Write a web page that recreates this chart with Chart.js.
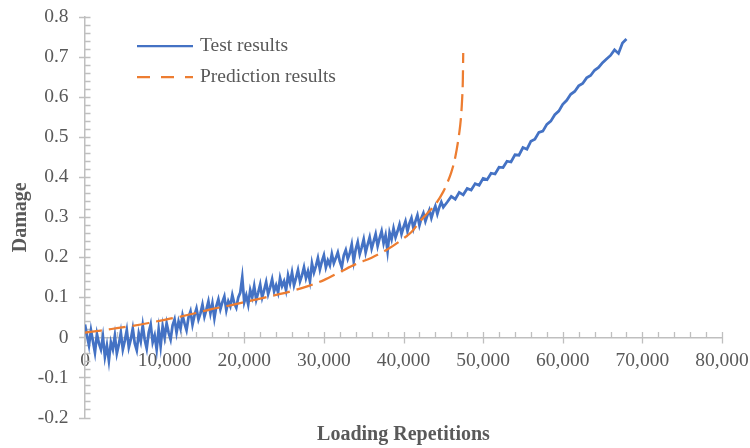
<!DOCTYPE html>
<html>
<head>
<meta charset="utf-8">
<script src="https://cdn.jsdelivr.net/npm/chart.js@4.4.1/dist/chart.umd.min.js"></script>
<style>
  html, body { margin: 0; padding: 0; background: #ffffff; }
  #wrap { width: 750px; height: 448px; position: relative; }
</style>
</head>
<body>
<div id="wrap"><canvas id="chart"></canvas></div>
<script>
// ---------- DATA ----------
const seriesNames = ['Test results', 'Prediction results'];
const xTickLabels = ['0', '10,000', '20,000', '30,000', '40,000', '50,000', '60,000', '70,000', '80,000'];
const yTickLabels = ['-0.2', '-0.1', '0', '0.1', '0.2', '0.3', '0.4', '0.5', '0.6', '0.7', '0.8'];

// Test results, part 1: repetitions 0 .. 45,000, one reading every 250
const testEarlyStart = 0, testEarlyStep = 250;
const testDamageEarly = [
  0.032, 0.005, -0.020, 0.018,    // 0
  -0.010, -0.038, 0.008, -0.015,  // 1000
  -0.030, 0.002, -0.048, -0.020,  // 2000
  -0.058, -0.012, -0.030, 0.004,  // 3000
  -0.040, -0.018, 0.012, -0.030,  // 4000
  -0.008, 0.018, -0.025, -0.005,  // 5000
  0.022, -0.015, -0.032, 0.010,   // 6000
  -0.010, 0.030, -0.006, -0.028,  // 7000
  0.012, 0.032, -0.012, 0.005,    // 8000
  -0.030, 0.020, -0.022, 0.028,   // 9000
  0.000, 0.035, 0.012, -0.005,    // 10000
  0.030, 0.045, 0.012, 0.040,     // 11000
  0.022, 0.055, 0.035, 0.018,     // 12000
  0.050, 0.065, 0.032, 0.055,     // 13000
  0.072, 0.045, 0.060, 0.082,     // 14000
  0.052, 0.070, 0.090, 0.060,     // 15000
  0.085, 0.048, 0.078, 0.095,     // 16000
  0.070, 0.088, 0.102, 0.068,     // 17000
  0.090, 0.078, 0.106, 0.085,     // 18000
  0.074, 0.100, 0.112, 0.150,     // 19000
  0.088, 0.105, 0.082, 0.118,     // 20000
  0.100, 0.128, 0.094, 0.112,     // 21000
  0.132, 0.100, 0.118, 0.138,     // 22000
  0.108, 0.125, 0.145, 0.115,     // 23000
  0.130, 0.112, 0.148, 0.128,     // 24000
  0.140, 0.118, 0.155, 0.135,     // 25000
  0.162, 0.130, 0.148, 0.168,     // 26000
  0.140, 0.155, 0.175, 0.148,     // 27000
  0.165, 0.140, 0.185, 0.162,     // 28000
  0.178, 0.198, 0.170, 0.190,     // 29000
  0.205, 0.175, 0.192, 0.180,     // 30000
  0.208, 0.185, 0.198, 0.212,     // 31000
  0.190, 0.175, 0.205, 0.218,     // 32000
  0.196, 0.210, 0.232, 0.190,     // 33000
  0.220, 0.238, 0.208, 0.225,     // 34000
  0.245, 0.212, 0.232, 0.250,     // 35000
  0.222, 0.240, 0.258, 0.228,     // 36000
  0.248, 0.265, 0.235, 0.255,     // 37000
  0.215, 0.262, 0.245, 0.272,     // 38000
  0.250, 0.265, 0.282, 0.258,     // 39000
  0.275, 0.290, 0.265, 0.285,     // 40000
  0.298, 0.272, 0.290, 0.305,     // 41000
  0.280, 0.298, 0.310, 0.290,     // 42000
  0.305, 0.318, 0.298, 0.315,     // 43000
  0.328, 0.308, 0.325, 0.338,     // 44000
  0.325                           // 45000
];
// Test results, part 2: repetitions 45,500 .. 68,000, one reading every 500
const testLateStart = 45500, testLateStep = 500;
const testDamageLate = [
  0.338, 0.352, 0.345, 0.362, 0.356, 0.372, 0.368, 0.384, 0.380, 0.397,
  0.394, 0.410, 0.408, 0.425, 0.424, 0.440, 0.438, 0.456, 0.455, 0.474,
  0.470, 0.490, 0.495, 0.512, 0.515, 0.532, 0.540, 0.556, 0.565, 0.582,
  0.592, 0.607, 0.614, 0.628, 0.634, 0.648, 0.654, 0.667, 0.674, 0.686,
  0.695, 0.704, 0.718, 0.709, 0.735, 0.745
];

// Prediction results
const predRepetitions = [0, 2000, 4000, 6000, 8000, 10000, 12000, 14000, 16000, 18000,
  20000, 22000, 24000, 26000, 28000, 30000, 32000, 34000, 36000, 38000,
  40000, 41000, 42000, 43000, 44000, 45000, 45500, 46000, 46500, 47000,
  47200, 47350, 47450, 47500];
const predDamage = [0.012, 0.017, 0.023, 0.029, 0.036, 0.044, 0.052, 0.061, 0.071, 0.079,
  0.088, 0.097, 0.106, 0.116, 0.128, 0.143, 0.163, 0.183, 0.199, 0.220,
  0.247, 0.263, 0.288, 0.310, 0.332, 0.364, 0.386, 0.412, 0.450, 0.510,
  0.545, 0.590, 0.640, 0.710];

// ---------- BUILD ----------
const testPoints = [];
testDamageEarly.forEach((d, i) => testPoints.push({ x: testEarlyStart + i * testEarlyStep, y: d }));
testDamageLate.forEach((d, i) => testPoints.push({ x: testLateStart + i * testLateStep, y: d }));
const predPoints = predRepetitions.map((r, i) => ({ x: r, y: predDamage[i] }));

const FONT = "'Liberation Serif', 'Times New Roman', serif";
const TEXT = '#595959';
const AXIS = '#bfbfbf';
const xMinorStep = 2000, yMinorStep = 0.02;

const axisTicksPlugin = {
  id: 'axisTicks',
  beforeDatasetsDraw(chart) {
    const { ctx, scales: { x, y } } = chart;
    const ay = y.getPixelForValue(0);
    const ax = chart.chartArea.left;
    ctx.save();
    ctx.strokeStyle = AXIS;
    ctx.lineWidth = 1.3;
    ctx.beginPath();
    const nx = Math.round((x.max - x.min) / xMinorStep);
    for (let k = 0; k <= nx; k++) {
      const v = x.min + k * xMinorStep;
      const px = Math.round(x.getPixelForValue(v)) + 0.5;
      const major = (k % 5) === 0;
      ctx.moveTo(px, ay - 5.5);
      ctx.lineTo(px, major ? ay + 6 : ay);
    }
    const ny = Math.round((y.max - y.min) / yMinorStep);
    for (let k = 0; k <= ny; k++) {
      const v = y.min + k * yMinorStep;
      const py = Math.round(y.getPixelForValue(v)) + 0.5;
      const major = (k % 5) === 0;
      ctx.moveTo(major ? ax - 6 : ax, py);
      ctx.lineTo(ax + 5.5, py);
    }
    ctx.stroke();
    ctx.restore();
  }
};

const legendPlugin = {
  id: 'innerLegend',
  afterDraw(chart) {
    const { ctx, chartArea } = chart;
    ctx.save();
    chart.data.datasets.forEach((ds, i) => {
      const yy = chartArea.top + 29 + i * 31;
      const x1 = chartArea.left + 52, x2 = chartArea.left + 108;
      ctx.strokeStyle = ds.borderColor;
      ctx.lineWidth = 2.25;
      ctx.setLineDash(ds.borderDash && ds.borderDash.length ? [13, 11] : []);
      ctx.beginPath();
      ctx.moveTo(x1, yy);
      ctx.lineTo(x2, yy);
      ctx.stroke();
      ctx.setLineDash([]);
      ctx.fillStyle = TEXT;
      ctx.font = "19.5px " + FONT;
      ctx.textAlign = 'left';
      ctx.textBaseline = 'middle';
      ctx.fillText(ds.label, x2 + 7, yy);
    });
    ctx.restore();
  }
};

new Chart(document.getElementById('chart'), {
  type: 'line',
  data: {
    datasets: [
      {
        label: seriesNames[0],
        data: testPoints,
        borderColor: '#4472C4',
        backgroundColor: '#4472C4',
        borderWidth: 2.75,
        pointRadius: 0,
        tension: 0,
        order: 2
      },
      {
        label: seriesNames[1],
        data: predPoints,
        borderColor: '#ED7D31',
        backgroundColor: '#ED7D31',
        borderWidth: 2.25,
        borderDash: [17, 7],
        pointRadius: 0,
        cubicInterpolationMode: 'monotone',
        order: 1
      }
    ]
  },
  options: {
    responsive: true,
    maintainAspectRatio: false,
    animation: false,
    layout: { padding: { left: 0, right: 28, top: 17, bottom: 0 } },
    plugins: {
      legend: { display: false },
      tooltip: { enabled: false },
      title: {
        display: true,
        position: 'bottom',
        fullSize: false,
        text: 'Loading Repetitions',
        color: TEXT,
        font: { family: FONT, size: 20, weight: 'bold', lineHeight: 1.2 },
        padding: { top: 5, bottom: 1.5 }
      }
    },
    scales: {
      x: {
        type: 'linear',
        min: 0,
        max: 80000,
        position: { y: 0 },
        afterFit: (s) => { s.height = 0; s.paddingLeft = 0; s.paddingRight = 0; },
        grid: { display: true, drawOnChartArea: false, drawTicks: false },
        border: { display: true, color: AXIS, width: 1.5 },
        ticks: {
          stepSize: 10000,
          autoSkip: false,
          maxRotation: 0,
          padding: 12,
          color: TEXT,
          font: { family: FONT, size: 19.5 },
          callback: (v, i) => xTickLabels[i]
        }
      },
      y: {
        type: 'linear',
        min: -0.2,
        max: 0.8,
        position: 'left',
        afterFit: (s) => { s.width = 85; s.paddingTop = 0; s.paddingBottom = 0; },
        grid: { display: true, drawOnChartArea: false, drawTicks: false },
        border: { display: true, color: AXIS, width: 1.5 },
        title: {
          display: true,
          text: 'Damage',
          color: TEXT,
          font: { family: FONT, size: 20, weight: 'bold', lineHeight: 1.2 },
          padding: { top: 9, bottom: 0 }
        },
        ticks: {
          stepSize: 0.1,
          autoSkip: false,
          padding: 16.5,
          color: TEXT,
          font: { family: FONT, size: 19.5 },
          callback: (v, i) => yTickLabels[i]
        }
      }
    }
  },
  plugins: [axisTicksPlugin, legendPlugin]
});
</script>
</body>
</html>
